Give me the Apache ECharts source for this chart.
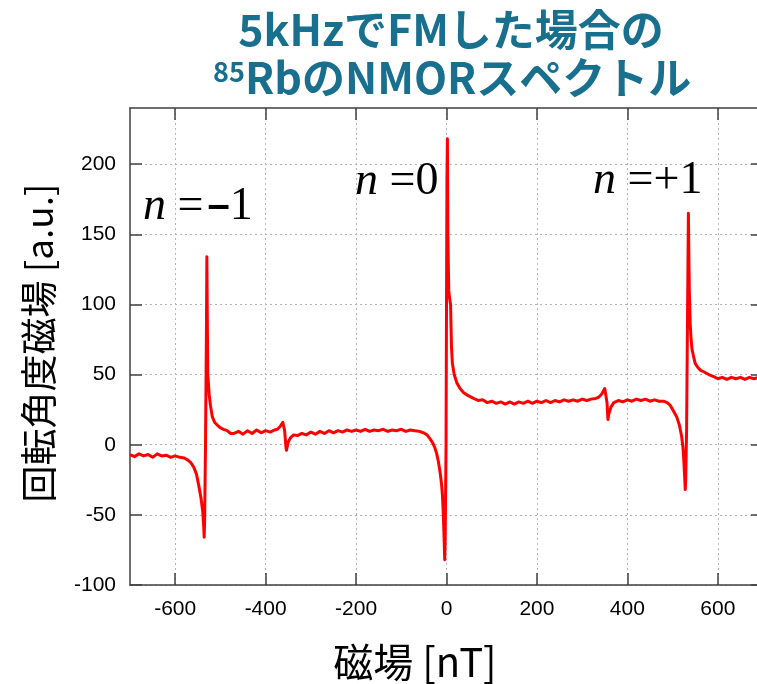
<!DOCTYPE html>
<html>
<head>
<meta charset="utf-8">
<script src="https://cdn.jsdelivr.net/npm/echarts@6/dist/echarts.min.js"></script>
<style>
html,body{margin:0;padding:0;background:#fff;}
#chart{width:757px;height:684px;}
</style>
</head>
<body>
<div id="chart"></div>
<script>
// ---- data ----
const titleLine1 = '5kHzでFMした場合の';
const titleSup = '85';
const titleLine2 = 'RbのNMORスペクトル';
const xAxisName = '磁場 [nT]';
const yAxisName = '回転角度磁場 [a.u.]';
const xTicks = [-600, -400, -200, 0, 200, 400, 600];
const yTicks = [-100, -50, 0, 50, 100, 150, 200];
const fieldNT = [
  -700,-690,-680,-670,-660,-650,-640,-630,-620,-610,-600,
  -590,-580,-572,-565,-559,-553,-548,-543,-539,-537,-536,-535,
  -533,-531,-530,-529,-528,-527,-525,-522,-518,-513,-507,-500,-493,-485,-478,
  -470,-460,-450,-440,-430,-420,-410,-400,-390,-380,
  -374,-368,-362,-360,-358,-355,-354,-350,-345,-338,
  -330,-320,-310,-300,-290,-280,-270,-260,-250,-240,-230,-220,-210,-200,
  -190,-180,-170,-160,-150,-140,-130,-120,-110,-100,-90,-80,-70,-60,
  -55,-48,-43,-36,-30,-26,-22,-18,-14,-11,-9,-7,-5,-4,-3,-1,
  0,1,2,3,5,7,9,11,13,17,23,30,38,48,
  60,70,80,90,100,110,120,130,140,150,160,170,180,190,
  200,210,220,230,240,250,260,270,280,290,300,310,320,330,
  337,343,350,353,355,357,359,364,370,380,390,400,410,420,430,440,450,460,470,480,
  488,495,502,509,515,520,523,525,527,528,529,531,533,535,537,539,541,543,547,550,
  556,562,569,580,591,600,610,620,630,640,650,660,670,680,690,700
];
const rotation = [
  -7,-8.5,-6.5,-8,-7,-9,-6.5,-8,-7.5,-9,-8,
  -9,-9.5,-11,-13,-16,-21,-29,-38,-48,-58,-66,-55,
  0,80,134,90,50,46,36,28,20,16,14,12,11,10,8,
  8,9.5,7.5,10,8,10.5,8.5,10,9,10.5,
  11,13,16,17,10,-2,-4,2,5,7,
  6.5,8,7,9,7.5,9.5,8,10,8.5,10,9,10.5,9.5,10.5,
  9.5,11,9.5,10.5,10,11,9.5,10.5,10,11,9.5,10.5,10,9.5,
  9,8,7,4,1,-2,-6,-12,-20,-28,-36,-50,-70,-82,-70,0,
  100,190,218,150,110,104,100,70,58,50,44,40,37,35,
  33,31.5,32,30,31,29.5,30.5,29,30.5,29,30.5,29.5,31,29.5,
  31,30,31.5,30,31.5,30.5,32,31,32,31,32.5,31.5,32.5,33,
  34,36,40,41,30,18,22,27,30,31.5,30.5,32,31,32.5,31.5,32.5,31,32,31,31,
  30,28,24,20,14,6,-2,-12,-25,-32,-25,10,90,165,110,86,75,68,62,58,
  55,53,52,50,48.5,47,48,46.5,48,47,48,46.5,48,47,48,47
];
const peakLabels = [
  {sign: '–', num: '1'},
  {sign: '', num: '0'},
  {sign: '+', num: '1'}
];

const seriesData = fieldNT.map((x, i) => [x, rotation[i]]);

const chart = echarts.init(document.getElementById('chart'), null, {renderer: 'canvas'});

const axisColor = '#404040';
const gridLine = {show: true, lineStyle: {color: '#b4b4b4', type: [2, 3], width: 1}};
const tickStyle = {show: true, inside: true, length: 12, lineStyle: {color: axisColor, width: 1.5}};
const labelFont = {fontFamily: 'Liberation Sans, Arial, sans-serif', fontSize: 21, color: '#000'};

function annot(i, left, baseY) {
  const p = peakLabels[i];
  let signPart = '';
  if (p.sign === '–') signPart = '{m|–}';
  else if (p.sign) signPart = '{e|' + p.sign + '}';
  return {
    type: 'text', left: left, top: baseY - 38, z: 10,
    style: {
      text: '{n|n} {e|=}' + signPart + '{e|' + p.num + '}',
      font: '46px "Liberation Serif", "Times New Roman", serif',
      fill: '#000',
      rich: {
        n: {fontStyle: 'italic', fontFamily: 'Liberation Serif', fontSize: 46},
        e: {fontFamily: 'Liberation Serif', fontSize: 46},
        m: {fontFamily: 'Liberation Sans', fontWeight: 'bold', fontSize: 40, padding: [0, 0, 0, 4]}
      }
    }
  };
}

chart.setOption({
  animation: false,
  backgroundColor: '#fff',
  grid: {left: 130, top: 108, width: 633, height: 477, containLabel: false, outerBoundsMode: 'none'},
  xAxis: [
    {
      type: 'value', min: -700, max: 700, position: 'bottom',
      axisLine: {show: true, onZero: false, lineStyle: {color: axisColor, width: 1.5}},
      axisTick: Object.assign({customValues: xTicks}, tickStyle),
      axisLabel: Object.assign({customValues: xTicks, margin: 14}, labelFont),
      splitLine: gridLine
    },
    {
      type: 'value', min: -700, max: 700, position: 'top',
      axisLine: {show: true, onZero: false, lineStyle: {color: axisColor, width: 1.5}},
      axisTick: Object.assign({customValues: xTicks}, tickStyle),
      axisLabel: {show: false},
      splitLine: {show: false}
    }
  ],
  yAxis: [
    {
      type: 'value', min: -100, max: 240, position: 'left',
      axisLine: {show: true, onZero: false, lineStyle: {color: axisColor, width: 1.5}},
      axisTick: Object.assign({customValues: yTicks}, tickStyle),
      axisLabel: Object.assign({customValues: yTicks, margin: 14}, labelFont),
      splitLine: gridLine
    },
    {
      type: 'value', min: -100, max: 240, position: 'right',
      axisLine: {show: true, onZero: false, lineStyle: {color: axisColor, width: 1.5}},
      axisTick: Object.assign({customValues: yTicks}, tickStyle),
      axisLabel: {show: false},
      splitLine: {show: false}
    }
  ],
  series: [{
    type: 'line',
    data: seriesData,
    xAxisIndex: 0, yAxisIndex: 0,
    showSymbol: false,
    smooth: false,
    lineStyle: {color: '#ff0000', width: 3, join: 'round'},
    z: 5
  }],
  graphic: [
    {
      type: 'text', x: 451, y: 30,
      style: {text: titleLine1, fill: '#186f8e', font: 'bold 43px "Noto Sans CJK JP", sans-serif', align: 'center', verticalAlign: 'middle'}
    },
    {
      type: 'text', x: 213, y: 72,
      style: {text: titleSup, fill: '#186f8e', font: 'bold 27px "Noto Sans CJK JP", sans-serif', align: 'left', verticalAlign: 'middle'}
    },
    {
      type: 'text', x: 245, y: 78,
      style: {text: titleLine2, fill: '#186f8e', font: 'bold 43px "Noto Sans CJK JP", sans-serif', align: 'left', verticalAlign: 'middle'}
    },
    {
      type: 'text', x: 415, y: 662,
      style: {text: xAxisName, fill: '#000', font: '40px "Noto Sans CJK JP", sans-serif', align: 'center', verticalAlign: 'middle'}
    },
    {
      type: 'text', x: 39, y: 343, rotation: Math.PI / 2,
      style: {text: yAxisName, fill: '#000', font: '37px "Noto Sans CJK JP", sans-serif', align: 'center', verticalAlign: 'middle'}
    },
    annot(0, 143, 222),
    annot(1, 355, 197),
    annot(2, 593, 196)
  ]
});
</script>
</body>
</html>
